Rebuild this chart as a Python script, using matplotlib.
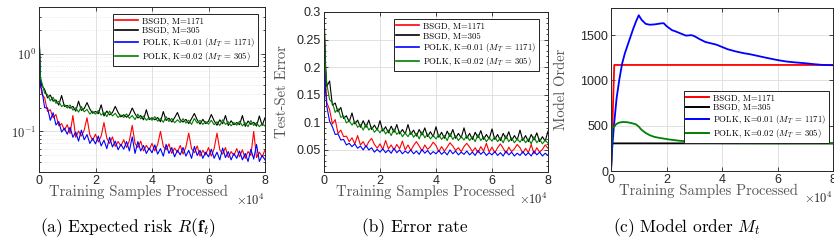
import numpy as np
import matplotlib
matplotlib.use("Agg")
import matplotlib.pyplot as plt
from matplotlib.ticker import FuncFormatter, MultipleLocator, FixedLocator

# training samples processed (thousands), shared by risk and error panels
samples_k = [0, 0.5, 1, 2, 3, 4, 5, 6, 7, 8,
             9, 10, 11, 12, 13, 14, 15, 16, 17, 18,
             19, 20, 21, 22, 23, 24, 25, 26, 27, 28,
             29, 30, 31, 32, 33, 34, 35, 36, 37, 38,
             39, 40, 41, 42, 43, 44, 45, 46, 47, 48,
             49, 50, 51, 52, 53, 54, 55, 56, 57, 58,
             59, 60, 61, 62, 63, 64, 65, 66, 67, 68,
             69, 70, 71, 72, 73, 74, 75, 76, 77, 78,
             79, 80]

# (a) expected risk
risk_bsgd_1171 = [2.0, 0.42, 0.302, 0.27, 0.181, 0.19, 0.15, 0.165, 0.118, 0.126,
                  0.104, 0.122, 0.094, 0.16, 0.084, 0.101, 0.087, 0.104, 0.15, 0.09,
                  0.077, 0.092, 0.073, 0.087, 0.13, 0.082, 0.07, 0.085, 0.064, 0.074,
                  0.065, 0.078, 0.062, 0.076, 0.12, 0.07, 0.062, 0.075, 0.056, 0.066,
                  0.058, 0.07, 0.056, 0.068, 0.1, 0.064, 0.058, 0.069, 0.052, 0.061,
                  0.054, 0.066, 0.051, 0.063, 0.095, 0.06, 0.053, 0.065, 0.048, 0.057,
                  0.05, 0.062, 0.048, 0.06, 0.095, 0.058, 0.051, 0.062, 0.046, 0.055,
                  0.049, 0.06, 0.047, 0.058, 0.045, 0.055, 0.049, 0.1, 0.046, 0.054,
                  0.047, 0.058]
risk_bsgd_305 = [2.0, 0.5, 0.388, 0.347, 0.27, 0.294, 0.245, 0.254, 0.218, 0.29,
                 0.209, 0.216, 0.199, 0.21, 0.182, 0.245, 0.186, 0.197, 0.235, 0.194,
                 0.171, 0.181, 0.169, 0.22, 0.158, 0.183, 0.163, 0.175, 0.21, 0.175,
                 0.154, 0.164, 0.152, 0.164, 0.2, 0.168, 0.149, 0.16, 0.141, 0.19,
                 0.142, 0.15, 0.141, 0.151, 0.133, 0.18, 0.138, 0.148, 0.132, 0.15,
                 0.175, 0.141, 0.132, 0.143, 0.126, 0.146, 0.17, 0.141, 0.124, 0.143,
                 0.126, 0.135, 0.165, 0.137, 0.12, 0.141, 0.125, 0.16, 0.119, 0.137,
                 0.122, 0.13, 0.122, 0.16, 0.116, 0.136, 0.123, 0.131, 0.117, 0.158,
                 0.119, 0.15]
risk_polk_001 = [2.0, 0.38, 0.345, 0.202, 0.201, 0.139, 0.174, 0.121, 0.134, 0.098,
                 0.11, 0.092, 0.113, 0.084, 0.098, 0.075, 0.104, 0.078, 0.091, 0.07,
                 0.081, 0.069, 0.087, 0.065, 0.077, 0.06, 0.084, 0.063, 0.075, 0.058,
                 0.068, 0.059, 0.074, 0.056, 0.085, 0.052, 0.074, 0.056, 0.066, 0.052,
                 0.061, 0.053, 0.067, 0.051, 0.06, 0.048, 0.068, 0.052, 0.062, 0.047,
                 0.057, 0.05, 0.062, 0.048, 0.057, 0.045, 0.064, 0.049, 0.057, 0.045,
                 0.054, 0.047, 0.059, 0.045, 0.054, 0.043, 0.061, 0.046, 0.055, 0.043,
                 0.052, 0.045, 0.056, 0.043, 0.052, 0.041, 0.059, 0.044, 0.068, 0.041,
                 0.049, 0.043]
risk_polk_002 = [2.0, 0.48, 0.428, 0.31, 0.299, 0.248, 0.275, 0.23, 0.244, 0.209,
                 0.222, 0.2, 0.219, 0.188, 0.202, 0.177, 0.209, 0.179, 0.192, 0.167,
                 0.182, 0.167, 0.186, 0.162, 0.175, 0.155, 0.183, 0.158, 0.171, 0.151,
                 0.163, 0.151, 0.168, 0.147, 0.16, 0.142, 0.167, 0.145, 0.158, 0.139,
                 0.151, 0.139, 0.155, 0.135, 0.147, 0.131, 0.155, 0.134, 0.147, 0.129,
                 0.141, 0.13, 0.146, 0.128, 0.139, 0.123, 0.147, 0.128, 0.139, 0.123,
                 0.134, 0.124, 0.139, 0.122, 0.133, 0.119, 0.141, 0.123, 0.133, 0.118,
                 0.13, 0.12, 0.135, 0.118, 0.129, 0.115, 0.138, 0.119, 0.13, 0.115,
                 0.126, 0.117]

# (b) test-set error rate
err_bsgd_1171 = [0.3, 0.18, 0.136, 0.123, 0.097, 0.105, 0.08, 0.086, 0.074, 0.075,
                 0.065, 0.072, 0.061, 0.076, 0.059, 0.065, 0.055, 0.065, 0.071, 0.06,
                 0.053, 0.061, 0.051, 0.067, 0.052, 0.059, 0.05, 0.06, 0.052, 0.066,
                 0.05, 0.059, 0.049, 0.058, 0.065, 0.057, 0.048, 0.059, 0.051, 0.056,
                 0.064, 0.058, 0.047, 0.056, 0.048, 0.055, 0.063, 0.057, 0.049, 0.054,
                 0.047, 0.056, 0.062, 0.055, 0.047, 0.054, 0.045, 0.056, 0.048, 0.062,
                 0.046, 0.055, 0.045, 0.054, 0.061, 0.053, 0.044, 0.055, 0.047, 0.052,
                 0.06, 0.054, 0.044, 0.053, 0.045, 0.06, 0.043, 0.054, 0.046, 0.051,
                 0.059, 0.053]
err_bsgd_305 = [0.3, 0.21, 0.165, 0.175, 0.131, 0.135, 0.119, 0.127, 0.107, 0.112,
                0.101, 0.117, 0.097, 0.104, 0.091, 0.103, 0.091, 0.104, 0.087, 0.095,
                0.086, 0.103, 0.084, 0.092, 0.081, 0.093, 0.082, 0.096, 0.079, 0.087,
                0.079, 0.096, 0.078, 0.086, 0.075, 0.087, 0.077, 0.09, 0.074, 0.083,
                0.074, 0.092, 0.073, 0.082, 0.071, 0.084, 0.074, 0.087, 0.071, 0.08,
                0.072, 0.09, 0.071, 0.08, 0.069, 0.082, 0.072, 0.085, 0.069, 0.078,
                0.07, 0.088, 0.069, 0.078, 0.067, 0.08, 0.07, 0.083, 0.067, 0.076,
                0.068, 0.086, 0.067, 0.076, 0.065, 0.078, 0.068, 0.081, 0.065, 0.074,
                0.066, 0.084]
err_polk_001 = [0.28, 0.16, 0.129, 0.102, 0.092, 0.078, 0.079, 0.068, 0.069, 0.059,
                0.062, 0.056, 0.061, 0.053, 0.057, 0.05, 0.058, 0.05, 0.054, 0.046,
                0.051, 0.046, 0.052, 0.045, 0.05, 0.044, 0.053, 0.045, 0.05, 0.043,
                0.048, 0.044, 0.05, 0.043, 0.048, 0.042, 0.051, 0.044, 0.049, 0.042,
                0.047, 0.043, 0.049, 0.042, 0.047, 0.041, 0.05, 0.043, 0.048, 0.041,
                0.046, 0.042, 0.048, 0.041, 0.046, 0.04, 0.049, 0.042, 0.047, 0.04,
                0.045, 0.041, 0.047, 0.04, 0.045, 0.039, 0.048, 0.041, 0.046, 0.039,
                0.044, 0.04, 0.047, 0.04, 0.045, 0.039, 0.048, 0.041, 0.046, 0.039,
                0.044, 0.04]
err_polk_002 = [0.3, 0.2, 0.17, 0.141, 0.136, 0.118, 0.125, 0.109, 0.112, 0.099,
                0.103, 0.095, 0.102, 0.091, 0.096, 0.086, 0.097, 0.086, 0.092, 0.082,
                0.088, 0.081, 0.089, 0.079, 0.086, 0.076, 0.088, 0.078, 0.084, 0.074,
                0.081, 0.074, 0.083, 0.073, 0.08, 0.07, 0.083, 0.072, 0.079, 0.07,
                0.076, 0.07, 0.078, 0.069, 0.076, 0.067, 0.08, 0.069, 0.076, 0.067,
                0.074, 0.068, 0.076, 0.067, 0.074, 0.065, 0.078, 0.067, 0.074, 0.065,
                0.072, 0.066, 0.074, 0.065, 0.072, 0.063, 0.076, 0.065, 0.072, 0.063,
                0.07, 0.064, 0.072, 0.063, 0.07, 0.061, 0.074, 0.063, 0.07, 0.061,
                0.068, 0.062]

# (c) model order
order_bsgd_1171_k = [0, 1.171, 80]
order_bsgd_1171 = [0, 1171, 1171]
order_bsgd_305_k = [0, 0.305, 80]
order_bsgd_305 = [0, 305, 305]
order_polk_001_k = [0, 0.3, 0.7, 1, 1.5, 2, 3, 4, 5, 6, 7, 8, 9, 10, 11, 12.5, 14,
                    16, 18, 19, 20, 22, 23, 25, 27, 29, 30, 32, 34, 36, 38, 40, 42,
                    45, 48, 50, 53, 56, 60, 63, 66, 70, 73, 76, 80]
order_polk_001 = [0, 200, 360, 480, 640, 800, 1010, 1185, 1300, 1390, 1480, 1570,
                  1650, 1720, 1670, 1625, 1615, 1620, 1630, 1632, 1600, 1555, 1545,
                  1520, 1495, 1500, 1490, 1455, 1425, 1410, 1395, 1370, 1345, 1320,
                  1300, 1290, 1270, 1250, 1225, 1210, 1200, 1190, 1180, 1172, 1168]
order_polk_002_k = [0, 0.2, 0.4, 1, 2, 3, 4.5, 6, 7.5, 9, 10, 11, 12.5, 14, 15.5,
                    17, 19, 21, 23, 25, 27.5, 30, 32, 35, 40, 50, 60, 70, 80]
order_polk_002 = [0, 300, 470, 490, 520, 535, 542, 538, 528, 515, 490, 455, 420,
                  395, 378, 368, 358, 348, 340, 333, 328, 320, 315, 310, 307, 306,
                  305, 305, 305]

labels = ["BSGD, M=1171", "BSGD, M=305",
          r"POLK, K=0.01 ($M_T$ = 1171)", r"POLK, K=0.02 ($M_T$ = 305)"]
colors = ["#ff0000", "#000000", "#0000ff", "#008000"]

plt.rcParams["mathtext.fontset"] = "cm"
plt.rcParams["font.family"] = "Liberation Sans"
plt.rcParams["axes.unicode_minus"] = False

SERIF = "cmr10"
TXT = "#262626"
W, H = 834, 240


def _add_axes(fig, left, top, right, bottom):
    return fig.add_axes([left / W, 1 - bottom / H, (right - left) / W, (bottom - top) / H])


def _style(ax, ylabel, ylabel_x, xlabel_x):
    ax.set_xlim(0, 80000)
    ax.xaxis.set_major_locator(FixedLocator([0, 20000, 40000, 60000, 80000]))
    ax.xaxis.set_major_formatter(FuncFormatter(lambda v, p: f"{v / 1e4:g}"))
    ax.tick_params(which="both", direction="in", top=True, right=True,
                   labelsize=9, colors=TXT, width=0.6, pad=2)
    ax.tick_params(which="major", length=3)
    ax.tick_params(which="minor", length=1.5)
    for s in ax.spines.values():
        s.set_linewidth(0.7)
        s.set_color(TXT)
    ax.grid(True, which="major", color="#dcdcdc", linewidth=0.6)
    ax.set_axisbelow(True)
    ax.set_xlabel("Training Samples Processed", family=SERIF, fontsize=10.5, color="#555555")
    ax.xaxis.label.set_va("center")
    ax.xaxis.set_label_coords(xlabel_x, -0.122)
    ax.set_ylabel(ylabel, family=SERIF, fontsize=10.5, color="#555555")
    ax.yaxis.set_label_coords(ylabel_x, 0.5)
    ax.text(1.0, -0.17, r"$\times\mathsf{10^4}$", transform=ax.transAxes,
            ha="right", va="center", fontsize=9, color=TXT)


def _legend(ax, anchor, lw):
    leg = ax.legend(loc="upper right", bbox_to_anchor=anchor, prop={"family": SERIF, "size": 6.3},
                    fancybox=False, edgecolor="#222222", framealpha=1, borderpad=0.3,
                    labelspacing=0.15, handlelength=2.6, handletextpad=0.5, borderaxespad=0)
    leg.get_frame().set_linewidth(0.7)
    for line in leg.get_lines():
        line.set_linewidth(lw)


fig = plt.figure(figsize=(W / 100, H / 100), dpi=100)
x = np.array(samples_k) * 1000

# (a)
ax = _add_axes(fig, 39, 7, 265, 172)
for y, c, lab in zip([risk_bsgd_1171, risk_bsgd_305, risk_polk_001, risk_polk_002], colors, labels):
    ax.plot(x, y, color=c, linewidth=0.8, label=lab)
ax.set_yscale("log")
ax.set_ylim(0.03, 4)
ax.yaxis.set_major_formatter(FuncFormatter(lambda v, p: r"$\mathsf{10^{%d}}$" % round(np.log10(v))))
ax.yaxis.set_minor_formatter(FuncFormatter(lambda v, p: ""))
ax.grid(True, which="minor", axis="y", color="#dcdcdc", linewidth=0.5, linestyle=":")
_style(ax, "Risk", -0.18, 0.44)
_legend(ax, (0.969, 0.958), 1.2)
fig.text(128 / W, 1 - 228 / H, r"(a) Expected risk $R(\mathbf{f}_t)$", family=SERIF,
         fontsize=12.5, ha="center", va="center")

# (b)
ax = _add_axes(fig, 324, 12, 548, 172)
for y, c, lab in zip([err_bsgd_1171, err_bsgd_305, err_polk_001, err_polk_002], colors, labels):
    ax.plot(x, y, color=c, linewidth=0.8, label=lab)
ax.set_ylim(0.01, 0.3)
ax.yaxis.set_major_locator(MultipleLocator(0.05))
ax.yaxis.set_minor_locator(MultipleLocator(0.01))
ax.yaxis.set_major_formatter(FuncFormatter(lambda v, p: f"{v:g}" if v > 0.02 else ""))
_style(ax, "Test-Set Error", -0.156, 0.455)
_legend(ax, (0.96, 0.956), 1.2)
fig.text(415 / W, 1 - 228 / H, "(b) Error rate", family=SERIF,
         fontsize=12.5, ha="center", va="center")

# (c)
ax = _add_axes(fig, 611, 8, 833, 171)
series_c = [(order_bsgd_1171_k, order_bsgd_1171), (order_bsgd_305_k, order_bsgd_305),
            (order_polk_001_k, order_polk_001), (order_polk_002_k, order_polk_002)]
for (xk, y), c, lab in zip(series_c, colors, labels):
    ax.plot(np.array(xk) * 1000, y, color=c, linewidth=1.3, label=lab)
ax.set_ylim(0, 1800)
ax.yaxis.set_major_locator(FixedLocator([0, 500, 1000, 1500]))
_style(ax, "Model Order", -0.194, 0.44)
_legend(ax, (0.982, 0.491), 1.4)
fig.text(687 / W, 1 - 228 / H, r"(c) Model order $M_t$", family=SERIF,
         fontsize=12.5, ha="center", va="center")

fig.savefig("out.png", dpi=100)
